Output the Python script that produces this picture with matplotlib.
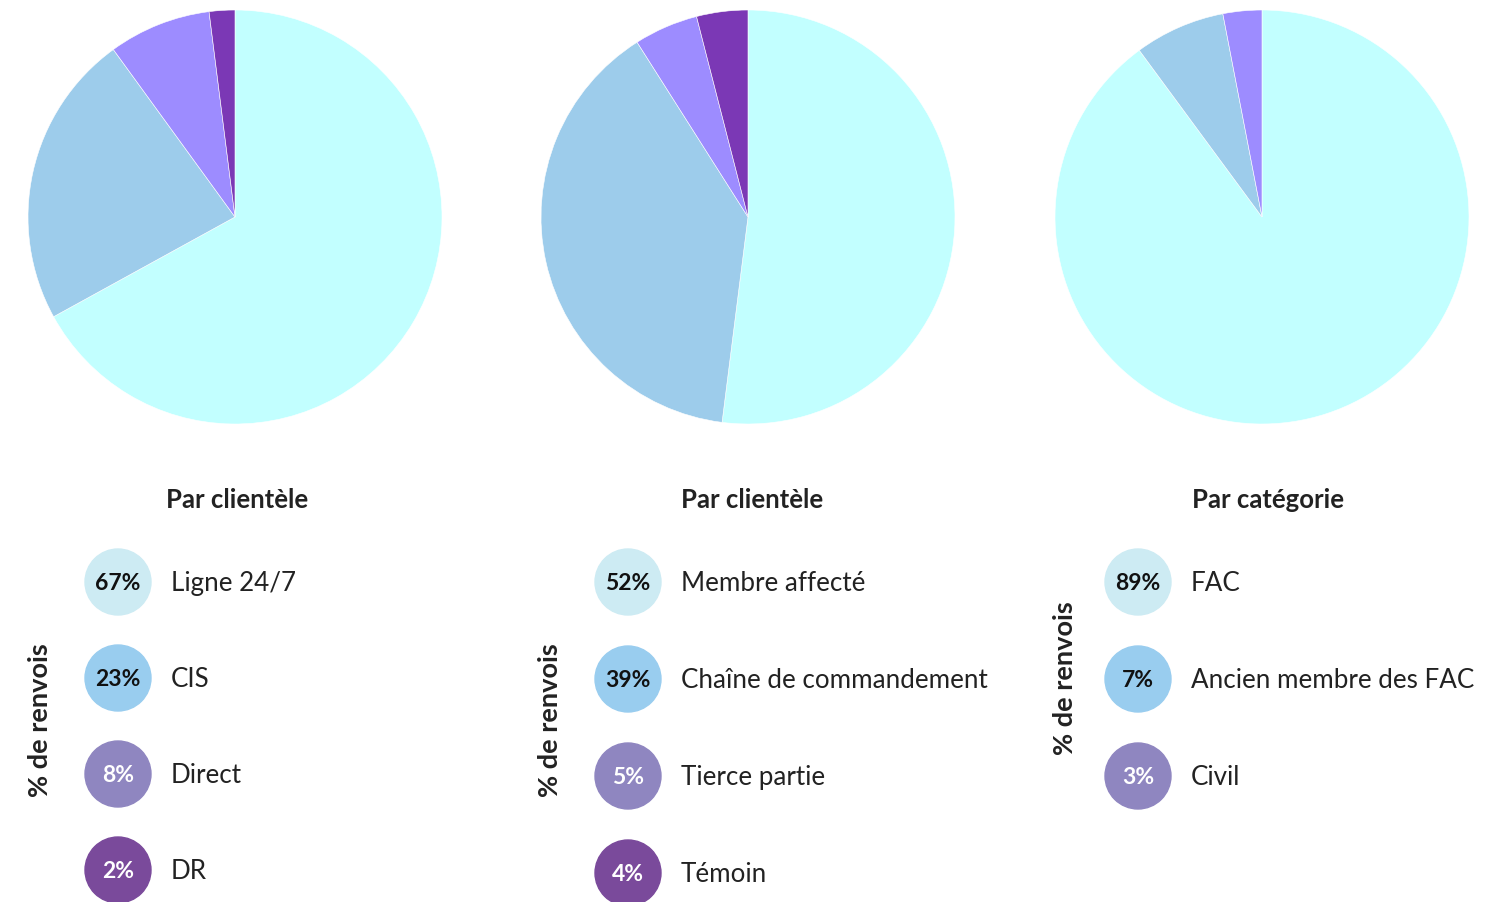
import matplotlib.pyplot as plt
from matplotlib.patches import Circle

plt.rcParams['font.family'] = ['Lato', 'DejaVu Sans']

# Data
titles = ["Par clientèle", "Par clientèle", "Par catégorie"]
labels = [
    ["Ligne 24/7", "CIS", "Direct", "DR"],
    ["Membre affecté", "Chaîne de commandement", "Tierce partie", "Témoin"],
    ["FAC", "Ancien membre des FAC", "Civil"],
]
values = [
    [67, 23, 8, 2],
    [52, 39, 5, 4],
    [89, 7, 3],
]
ylabel = "% de renvois"

pie_colors = ['#C2FFFF', '#9DCCEB', '#9D8CFF', '#7B38B5']
dot_colors = ['#CDEBF3', '#99CDEF', '#8F86C0', '#7A4A9B']
dot_text = ['#111111', '#111111', 'white', 'white']

W, H = 1501, 903
fig = plt.figure(figsize=(W / 100, H / 100), dpi=100)

# overlay axes in pixel coordinates for legend / text
ov = fig.add_axes([0, 0, 1, 1])
ov.set_xlim(0, W)
ov.set_ylim(H, 0)
ov.axis('off')

pie_cx = [235, 748, 1262]
pie_r = 207
pie_cy = 218
title_x = [237, 752, 1268]
dot_x = [118, 628, 1138]
row_y0 = 583
row_step = [96, 97, 97]
ylab_x = [40, 550, 1065]
ylab_y = [720, 720, 678]

for k in range(3):
    cx = pie_cx[k]
    ax = fig.add_axes([(cx - pie_r) / W, (H - pie_cy - pie_r) / H,
                       2 * pie_r / W, 2 * pie_r / H])
    ax.pie(values[k], colors=pie_colors[:len(values[k])], startangle=90,
           counterclock=False, radius=1,
           wedgeprops=dict(edgecolor='white', linewidth=0.4))
    ax.set_xlim(-1, 1)
    ax.set_ylim(-1, 1)
    ax.set_aspect('equal')
    ax.axis('off')

    # section title
    ov.text(title_x[k], 500, titles[k], ha='center', va='center',
            fontsize=18.5, fontweight='bold', color='#222222')

    # legend rows
    lx = dot_x[k]
    for i, (lab, v) in enumerate(zip(labels[k], values[k])):
        y = row_y0 + i * row_step[k]
        ov.add_patch(Circle((lx, y), 33, color=dot_colors[i], zorder=2))
        ov.text(lx, y + 1, f"{v}%", ha='center', va='center', fontsize=16.5,
                fontweight='bold', color=dot_text[i], zorder=3)
        ov.text(lx + 53, y + 1, lab, ha='left', va='center', fontsize=18.7,
                color='#222222')

    ov.text(ylab_x[k], ylab_y[k], ylabel, ha='center', va='center',
            rotation=90, fontsize=19.5, fontweight='bold', color='#222222')

fig.savefig('out.png', dpi=100)
